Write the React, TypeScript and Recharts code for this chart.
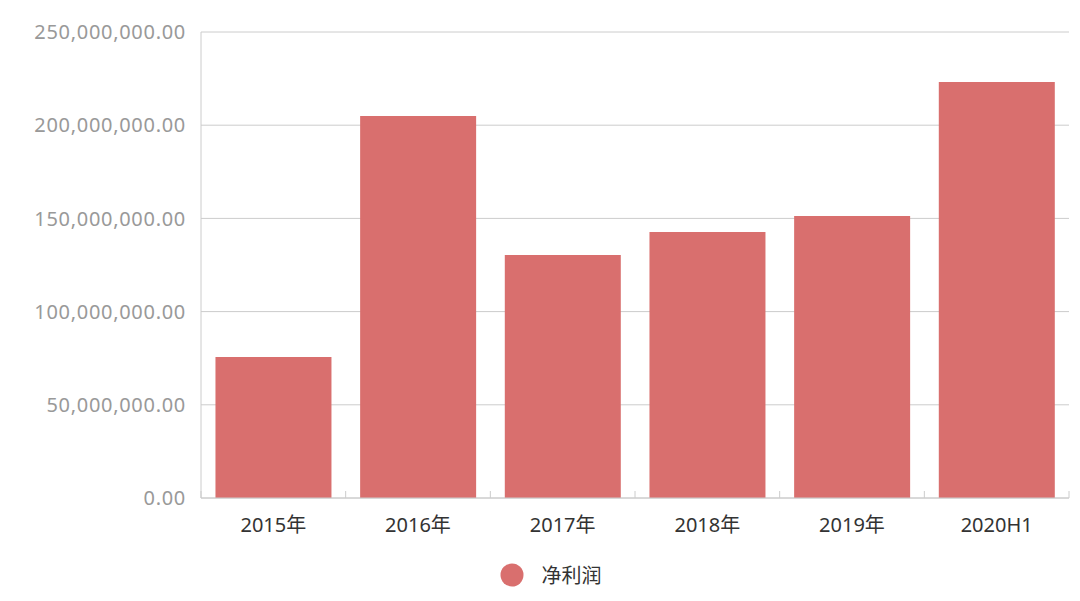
import React from 'react';
import {
  BarChart,
  Bar,
  XAxis,
  YAxis,
  CartesianGrid,
  Legend,
} from 'recharts';

const categories = ['2015年', '2016年', '2017年', '2018年', '2019年', '2020H1'];
const netProfit = [75600000, 204900000, 130400000, 142700000, 151300000, 223200000];
const yTicks = [0, 50000000, 100000000, 150000000, 200000000, 250000000];
const seriesName = '净利润';

const data = categories.map((name, i) => ({ name, value: netProfit[i] }));

const WIDTH = 1080;
const HEIGHT = 601;
const YAXIS_W = 201;
const RIGHT = 11;
const BAR_COLOR = '#d96f6e';
const FONT = "'Noto Sans', 'Noto Sans CJK SC', sans-serif";

const fmt = (v: number) =>
  v.toLocaleString('en-US', { minimumFractionDigits: 2, maximumFractionDigits: 2 });

// category labels plus the small inside ticks at the band edges
function XTick(props: any) {
  const { x, y, payload, index } = props;
  const band = (WIDTH - YAXIS_W - RIGHT) / categories.length;
  return (
    <g>
      <text
        x={x}
        y={y + 26}
        textAnchor="middle"
        dominantBaseline="central"
        fill="#333"
        fontSize={20}
        fontFamily={FONT}
      >
        {payload.value}
      </text>
      <line x1={x + band / 2} x2={x + band / 2} y1={y} y2={y - 7} stroke="#ccc" />
      {index === 0 && (
        <line x1={x - band / 2} x2={x - band / 2} y1={y} y2={y - 7} stroke="#ccc" />
      )}
    </g>
  );
}

function LegendContent() {
  return (
    <div
      style={{
        height: 53,
        display: 'flex',
        alignItems: 'center',
        justifyContent: 'center',
        fontFamily: FONT,
        fontSize: 20,
        color: '#333',
        paddingLeft: 32,
      }}
    >
      <svg width={24} height={24} style={{ marginRight: 18 }}>
        <circle cx={12} cy={12} r={11.5} fill={BAR_COLOR} />
      </svg>
      <span>{seriesName}</span>
    </div>
  );
}

export default function App() {
  return (
    <div style={{ position: 'absolute', left: 0, top: 0, background: '#fff' }}>
      <BarChart
        width={WIDTH}
        height={HEIGHT}
        data={data}
        margin={{ top: 32, right: RIGHT, left: 0, bottom: 0 }}
        barCategoryGap="10%"
      >
        <CartesianGrid vertical={false} stroke="#ccc" />
        <XAxis
          dataKey="name"
          height={50}
          stroke="#ccc"
          tickLine={false}
          tickSize={0}
          tickMargin={0}
          interval={0}
          tick={<XTick />}
        />
        <YAxis
          width={YAXIS_W}
          domain={[0, 250000000]}
          ticks={yTicks}
          stroke="#ccc"
          tickLine={false}
          tickSize={0}
          tickMargin={15}
          tickFormatter={fmt}
          tick={{ fill: '#999', fontSize: 20, fontFamily: FONT, letterSpacing: 0.7 }}
        />
        <Legend verticalAlign="bottom" height={53} content={<LegendContent />} />
        <Bar dataKey="value" name={seriesName} fill={BAR_COLOR} isAnimationActive={false} />
      </BarChart>
    </div>
  );
}
